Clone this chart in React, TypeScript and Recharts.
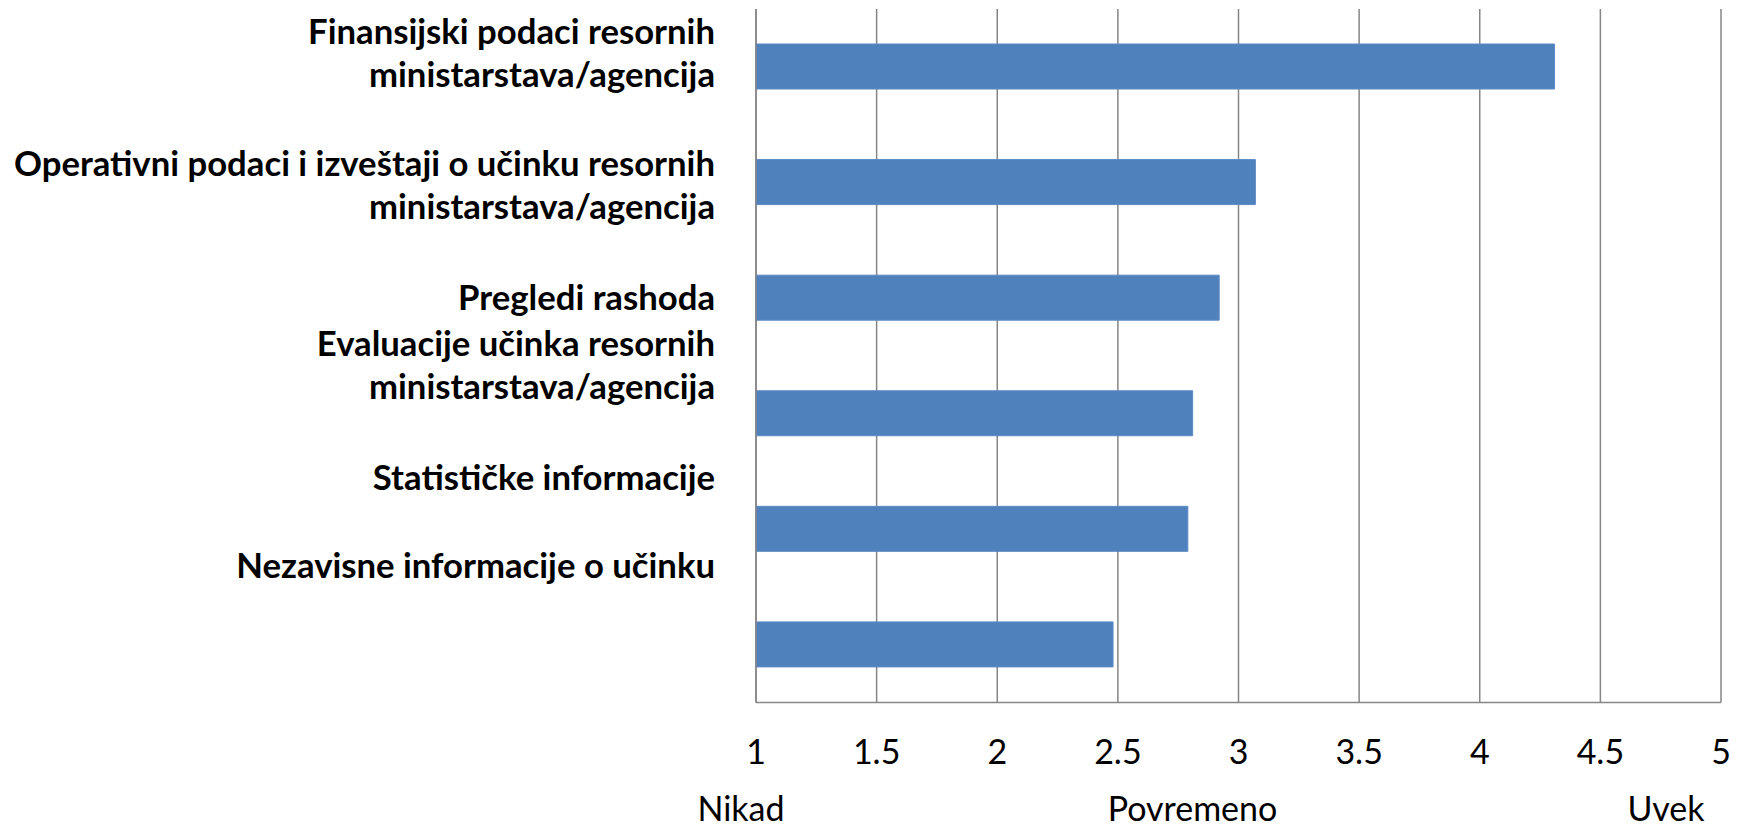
import { BarChart, Bar, XAxis, YAxis, CartesianGrid } from 'recharts';

// survey categories, top to bottom
const categories = [
  'Finansijski podaci resornih\nministarstava/agencija',
  'Operativni podaci i izveštaji o učinku resornih\nministarstava/agencija',
  'Pregledi rashoda',
  'Evaluacije učinka resornih\nministarstava/agencija',
  'Statističke informacije',
  'Nezavisne informacije o učinku',
];

// mean frequency score (1 = Nikad, 5 = Uvek)
const scores = [4.31, 3.07, 2.92, 2.81, 2.79, 2.48];

const scaleTicks = [1, 1.5, 2, 2.5, 3, 3.5, 4, 4.5, 5];
const scaleWords: Record<number, string> = { 1: 'Nikad', 3: 'Povremeno', 5: 'Uvek' };

const data = categories.map((name, i) => ({ name, score: scores[i] }));

// the labels in the original sit off their bars, nudge them to match
const labelShift = [-13, 3, 0, -48, -51, -79];
const wordShift: Record<number, number> = { 1: -15, 3: -46, 5: -55 };

const FONT = 'Lato, "Open Sans", sans-serif';

const CategoryTick = (props: any) => {
  const { x, y, payload, index } = props;
  const lines = String(payload.value).split('\n');
  const lineH = 43;
  const top = y + (labelShift[index] ?? 0) - ((lines.length - 1) * lineH) / 2;
  return (
    <text x={x - 41} y={top} textAnchor="end" fontFamily={FONT} fontWeight={700} fontSize={34.7} fill="#000">
      {lines.map((l, i) => (
        <tspan key={i} x={x - 41} y={top + i * lineH} dy="0.35em">
          {l}
        </tspan>
      ))}
    </text>
  );
};

const ScaleTick = (props: any) => {
  const { x, y, payload } = props;
  const v = payload.value;
  const word = scaleWords[v];
  return (
    <g fontFamily={FONT} fontSize={34} fill="#000">
      <text x={x} y={y + 50} dy="0.35em" textAnchor="middle">{v}</text>
      {word && (
        <text x={x + wordShift[v]} y={y + 107} dy="0.35em" textAnchor="middle">{word}</text>
      )}
    </g>
  );
};

export default function App() {
  return (
    <div style={{ position: 'absolute', left: 0, top: 0, background: '#fff' }}>
      <BarChart
        width={1743}
        height={827}
        data={data}
        layout="vertical"
        margin={{ top: 9, right: 22, left: 0, bottom: 0 }}
        barSize={45}
      >
        <CartesianGrid horizontal={false} stroke="#868686" strokeWidth={1.5} />
        <XAxis
          type="number"
          domain={[1, 5]}
          ticks={scaleTicks}
          interval={0}
          height={124.5}
          tickSize={0}
          tickMargin={0}
          tickLine={false}
          axisLine={{ stroke: '#868686', strokeWidth: 1.5 }}
          tick={<ScaleTick />}
        />
        <YAxis
          type="category"
          dataKey="name"
          width={756}
          tickSize={0}
          tickMargin={0}
          tickLine={false}
          axisLine={{ stroke: '#868686', strokeWidth: 1.5 }}
          interval={0}
          tick={<CategoryTick />}
        />
        <Bar dataKey="score" fill="#4F81BD" stroke="#5B8AC4" strokeWidth={1} isAnimationActive={false} />
      </BarChart>
    </div>
  );
}
